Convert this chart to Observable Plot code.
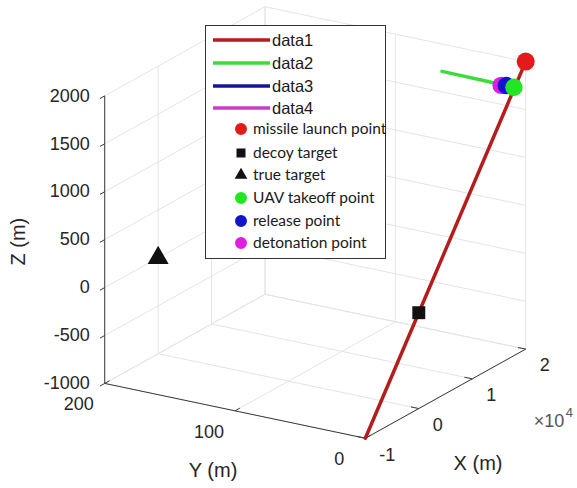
<!DOCTYPE html>
<html>
<head>
<meta charset="utf-8">
<script src="https://cdn.jsdelivr.net/npm/d3@7"></script>
<script src="https://cdn.jsdelivr.net/npm/@observablehq/plot@0.6"></script>
<style>
  html, body { margin: 0; padding: 0; background: #fff; }
  #chart { width: 577px; height: 488px; }
</style>
</head>
<body>
<div id="chart"></div>
<script>
// ---- axis limits and ticks (metres) ----
const xLim = [-10000, 20000];
const yLim = [0, 200];
const zLim = [-1000, 2000];
const xTicks = [-10000, 0, 10000, 20000];
const xTickLabels = ["-1", "0", "1", "2"];   // shown with a ×10^4 multiplier
const yTicks = [0, 100, 200];
const zTicks = [-1000, -500, 0, 500, 1000, 1500, 2000];

// ---- trajectories [X, Y, Z] ----
const missilePath = [[20000, 0, 2000], [-10000, 0, -1000]];   // data1
const uavPath     = [[17800, 0, 1800], [18000, 56, 1800]];    // data2
const bombPath    = [[17823, 6, 1800], [17840, 10, 1790]];    // data3
const cloudPath   = [[17840, 10, 1790], [17840, 10, 1765]];   // data4

// ---- key points [X, Y, Z] ----
const missileLaunch   = [20000, 0, 2000];
const decoyTarget     = [0, 0, 0];
const trueTarget      = [0, 200, 0];
const uavTakeoff      = [17800, 0, 1800];
const releasePoint    = [17823, 6, 1800];
const detonationPoint = [17840, 10, 1790];

// ---- legend entries ----
const lineNames  = ["data1", "data2", "data3", "data4"];
const pointNames = ["missile launch point", "decoy target", "true target",
                    "UAV takeoff point", "release point", "detonation point"];

// ---- colours ----
const lineColors  = ["#b51c1c", "#3cdc3c", "#16168f", "#c93cc9"];
const pointColors = ["#e41a1a", "#111111", "#111111", "#22e622", "#1414cc", "#e01ee0"];
const pointSymbols = ["circle", "square", "triangle", "circle", "circle", "circle"];

// ---- orthographic 3-D view (azimuth / elevation, unit plot box) ----
const az = -58.4 * Math.PI / 180;
const el = 20 * Math.PI / 180;
function project([X, Y, Z]) {
  const xn = (X - xLim[0]) / (xLim[1] - xLim[0]) - 0.5;
  const yn = (Y - yLim[0]) / (yLim[1] - yLim[0]) - 0.5;
  const zn = (Z - zLim[0]) / (zLim[1] - zLim[0]) - 0.5;
  return {
    u: Math.cos(az) * xn + Math.sin(az) * yn,
    v: -Math.sin(el) * Math.sin(az) * xn + Math.sin(el) * Math.cos(az) * yn + Math.cos(el) * zn
  };
}
const seg = (a, b) => { const p = project(a), q = project(b); return {x1: p.u, y1: p.v, x2: q.u, y2: q.v}; };

// grid on the floor and the two back walls
const gridSegs = [];
for (const x of xTicks) gridSegs.push(seg([x, yLim[0], zLim[0]], [x, yLim[1], zLim[0]]));
for (const y of yTicks) gridSegs.push(seg([xLim[0], y, zLim[0]], [xLim[1], y, zLim[0]]));
for (const x of xTicks) gridSegs.push(seg([x, yLim[1], zLim[0]], [x, yLim[1], zLim[1]]));
for (const z of zTicks) gridSegs.push(seg([xLim[0], yLim[1], z], [xLim[1], yLim[1], z]));
for (const y of yTicks) gridSegs.push(seg([xLim[1], y, zLim[0]], [xLim[1], y, zLim[1]]));
for (const z of zTicks) gridSegs.push(seg([xLim[1], yLim[0], z], [xLim[1], yLim[1], z]));

// axis lines
const axisSegs = [
  seg([xLim[0], yLim[0], zLim[0]], [xLim[1], yLim[0], zLim[0]]),
  seg([xLim[0], yLim[0], zLim[0]], [xLim[0], yLim[1], zLim[0]]),
  seg([xLim[0], yLim[1], zLim[0]], [xLim[0], yLim[1], zLim[1]])
];
// tick marks
const tickFrac = 0.03;
const tickSegs = [
  ...xTicks.map(x => seg([x, yLim[0], zLim[0]], [x, yLim[0] + tickFrac * (yLim[1] - yLim[0]), zLim[0]])),
  ...yTicks.map(y => seg([xLim[0], y, zLim[0]], [xLim[0] + tickFrac * (xLim[1] - xLim[0]), y, zLim[0]])),
  ...zTicks.map(z => seg([xLim[0], yLim[1], z], [xLim[0] - tickFrac * (xLim[1] - xLim[0]), yLim[1], z]))
];

// pixel frame of the view
const W = 577, H = 488, k = 306, cx = 314.7, cy = 222;

const font = "'Liberation Sans', Arial, sans-serif";
const ink = "#262626";
const P = p => project(p);

const pts = [missileLaunch, decoyTarget, trueTarget, uavTakeoff, releasePoint, detonationPoint]
  .map((p, i) => ({...P(p), i, name: pointNames[i]}));
// stacking order of the overlapping markers near the UAV
const drawOrder = [0, 1, 2, 5, 4, 3];
const pointSizes = [9, 7.3, 7.8, 8.7, 8.7, 8.7];

const plot = Plot.plot({
  width: W, height: H,
  margin: 0,
  x: {type: "linear", domain: [-cx / k, (W - cx) / k], range: [0, W], axis: null},
  y: {type: "linear", domain: [(cy - H) / k, cy / k], range: [H, 0], axis: null},
  style: {fontFamily: font, background: "#fff", color: ink},
  marks: [
    Plot.link(gridSegs, {x1: "x1", y1: "y1", x2: "x2", y2: "y2", stroke: "#e4e4e4", strokeWidth: 1}),
    Plot.link(axisSegs, {x1: "x1", y1: "y1", x2: "x2", y2: "y2", stroke: "#3a3a3a", strokeWidth: 1}),
    Plot.link(tickSegs, {x1: "x1", y1: "y1", x2: "x2", y2: "y2", stroke: "#3a3a3a", strokeWidth: 1}),

    // tick labels
    Plot.text(zTicks, {x: z => P([xLim[0], yLim[1], z]).u, y: z => P([xLim[0], yLim[1], z]).v,
      text: z => String(z), textAnchor: "end", dx: -15, fontSize: 18, fill: ink}),
    Plot.text(yTicks, {x: y => P([xLim[0], y, zLim[0]]).u, y: y => P([xLim[0], y, zLim[0]]).v,
      text: y => String(y), textAnchor: "middle", dx: -26, dy: 21, fontSize: 18, fill: ink}),
    Plot.text(xTicks, {x: x => P([x, yLim[0], zLim[0]]).u, y: x => P([x, yLim[0], zLim[0]]).v,
      text: (x, i) => xTickLabels[i], textAnchor: "start", dx: 14, dy: 16.5, fontSize: 18, fill: ink}),
    // exponent label at the end of the X axis
    Plot.text([xLim[1]], {x: x => P([x, yLim[0], zLim[0]]).u, y: x => P([x, yLim[0], zLim[0]]).v,
      text: () => "×10", textAnchor: "start", dx: 8, dy: 72, fontSize: 18, fill: "#555"}),
    Plot.text([xLim[1]], {x: x => P([x, yLim[0], zLim[0]]).u, y: x => P([x, yLim[0], zLim[0]]).v,
      text: () => "4", textAnchor: "start", dx: 40, dy: 64, fontSize: 13, fill: "#555"}),

    // axis titles
    Plot.text([5000], {x: x => P([x, yLim[0], zLim[0]]).u, y: x => P([x, yLim[0], zLim[0]]).v,
      text: () => "X (m)", textAnchor: "middle", dx: 32.5, dy: 70, fontSize: 20, fill: ink}),
    Plot.text([100], {x: y => P([xLim[0], y, zLim[0]]).u, y: y => P([xLim[0], y, zLim[0]]).v,
      text: () => "Y (m)", textAnchor: "middle", dx: -22, dy: 59.5, fontSize: 20, fill: ink}),
    Plot.text([500], {x: z => P([xLim[0], yLim[1], z]).u, y: z => P([xLim[0], yLim[1], z]).v,
      text: () => "Z (m)", textAnchor: "middle", rotate: -90, dx: -86, dy: 2, fontSize: 20, fill: ink}),

    // trajectories
    Plot.line(missilePath.map(P), {x: "u", y: "v", stroke: lineColors[0], strokeWidth: 3.5}),
    Plot.line(uavPath.map(P),     {x: "u", y: "v", stroke: lineColors[1], strokeWidth: 3.5}),
    Plot.line(bombPath.map(P),    {x: "u", y: "v", stroke: lineColors[2], strokeWidth: 3.5}),
    Plot.line(cloudPath.map(P),   {x: "u", y: "v", stroke: lineColors[3], strokeWidth: 3.5}),

    // key points
    ...drawOrder.map(i => Plot.dot([pts[i]], {x: "u", y: "v", symbol: () => pointSymbols[i],
      r: pointSizes[i], fill: pointColors[i], stroke: "none"}))
  ]
});

document.getElementById("chart").appendChild(plot);

// ---- legend box ----
const svg = d3.select(plot);
const lg = svg.append("g").attr("text-anchor", "start");
lg.append("rect").attr("x", 205.5).attr("y", 25.5).attr("width", 180).attr("height", 233)
  .attr("fill", "#fff").attr("stroke", "#333").attr("stroke-width", 1);
const lineRows = [40, 63, 86, 108];
lineNames.forEach((name, i) => {
  lg.append("line").attr("x1", 213).attr("x2", 270).attr("y1", lineRows[i]).attr("y2", lineRows[i])
    .attr("stroke", lineColors[i]).attr("stroke-width", 3.5);
  lg.append("text").attr("x", 272).attr("y", lineRows[i]).attr("dy", "0.35em")
    .attr("text-anchor", "start")
    .attr("font-family", font).attr("font-size", 16.5).attr("fill", "#1a1a1a").text(name);
});
const pointRows = [129, 153, 175, 198, 221, 243];
const legendSym = {circle: d3.symbolCircle, square: d3.symbolSquare, triangle: d3.symbolTriangle};
const legendSize = {circle: 113, square: 81, triangle: 70};
pointNames.forEach((name, i) => {
  const s = pointSymbols[i];
  lg.append("path").attr("transform", `translate(241,${pointRows[i]})`)
    .attr("d", d3.symbol(legendSym[s], legendSize[s])()).attr("fill", pointColors[i]);
  lg.append("text").attr("x", 253).attr("y", pointRows[i]).attr("dy", "0.35em")
    .attr("text-anchor", "start")
    .attr("font-family", "Lato, 'Open Sans', sans-serif").attr("font-size", 15.5)
    .attr("fill", "#1a1a1a").text(name);
});
</script>
</body>
</html>
